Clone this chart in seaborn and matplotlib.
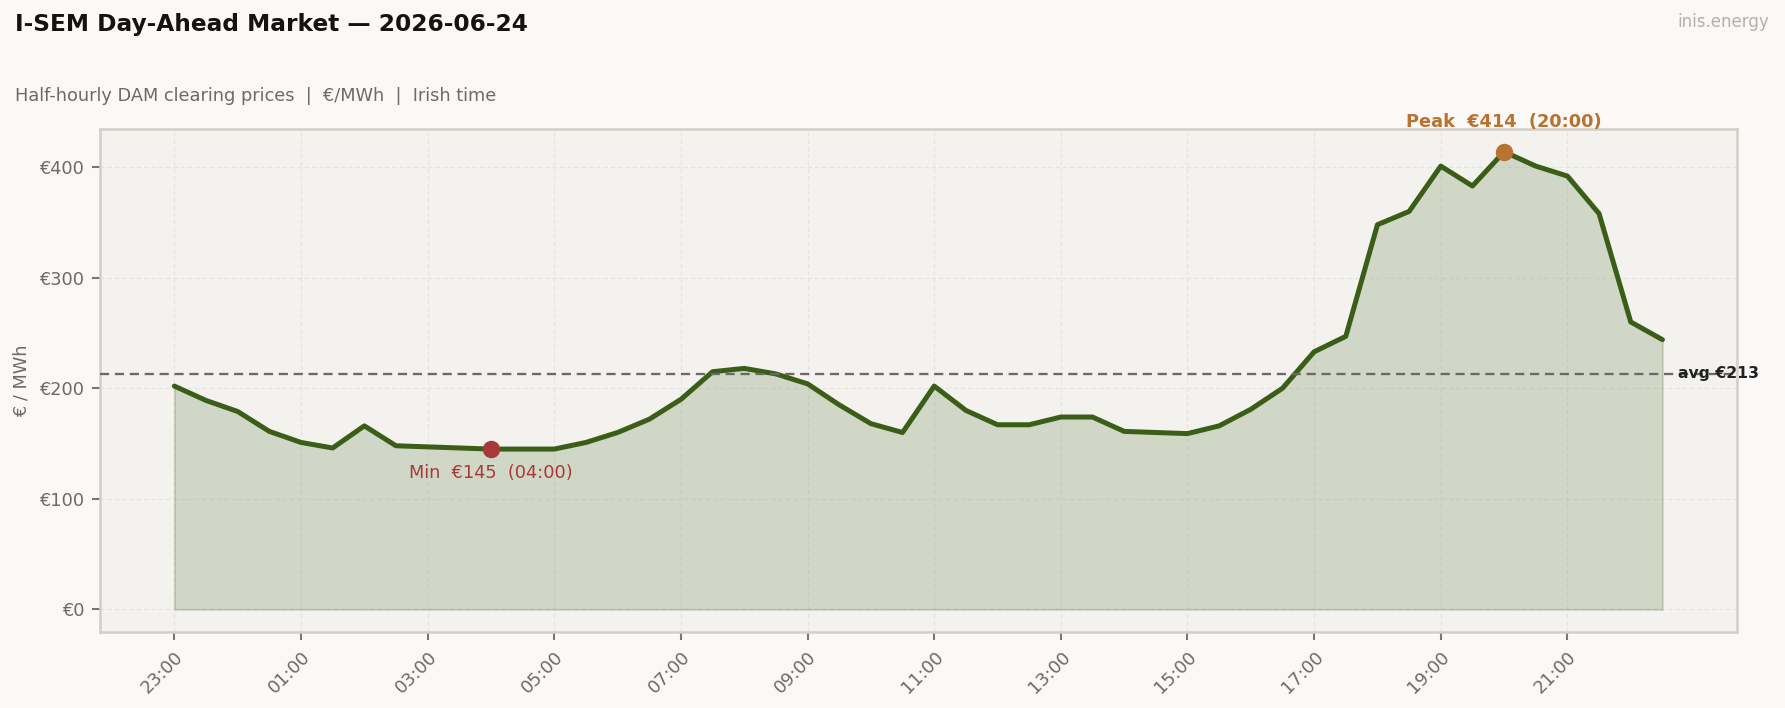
import matplotlib
matplotlib.use("Agg")
import matplotlib.pyplot as plt
import seaborn as sns
import numpy as np
import pandas as pd

# ---- data ----
times = ["23:00", "23:30", "00:00", "00:30", "01:00", "01:30", "02:00", "02:30",
         "03:00", "03:30", "04:00", "04:30", "05:00", "05:30", "06:00", "06:30",
         "07:00", "07:30", "08:00", "08:30", "09:00", "09:30", "10:00", "10:30",
         "11:00", "11:30", "12:00", "12:30", "13:00", "13:30", "14:00", "14:30",
         "15:00", "15:30", "16:00", "16:30", "17:00", "17:30", "18:00", "18:30",
         "19:00", "19:30", "20:00", "20:30", "21:00", "21:30", "22:00", "22:30"]
prices = [202, 189, 179, 161, 151, 146, 166, 148,
          147, 146, 145, 145, 145, 151, 160, 172,
          190, 215, 218, 213, 204, 185, 168, 160,
          202, 180, 167, 167, 174, 174, 161, 160,
          159, 166, 181, 200, 233, 247, 348, 360,
          401, 383, 414, 401, 392, 358, 260, 244]
tick_labels = ["23:00", "01:00", "03:00", "05:00", "07:00", "09:00", "11:00",
               "13:00", "15:00", "17:00", "19:00", "21:00"]

title = "I-SEM Day-Ahead Market \u2014 2026-06-24"
subtitle = "Half-hourly DAM clearing prices  |  \u20ac/MWh  |  Irish time"
brand = "inis.energy"

# ---- style ----
sns.set_theme(style="white")
plt.rcParams["font.family"] = ["DejaVu Sans"]

LINE = "#3a5e17"
FIG_BG = "#faf9f7"
AX_BG = "#f3f2ee"
GRID = "#e6e3df"
SPINE = "#d3cfc8"
TXT = "#6e6a66"
PEAK = "#b87330"
MIN = "#a8393b"

df = pd.DataFrame({"idx": np.arange(len(prices)), "time": times, "price": prices})

fig = plt.figure(figsize=(11.9, 4.72), dpi=150, facecolor=FIG_BG)
ax = fig.add_axes([0.056, 0.107, 0.917, 0.711])
ax.set_facecolor(AX_BG)

ax.fill_between(df["idx"], 0, df["price"], color=LINE, alpha=0.18, linewidth=1.0, zorder=2)
sns.lineplot(data=df, x="idx", y="price", ax=ax, color=LINE, linewidth=2.4, zorder=3)

avg = float(np.mean(prices))
ax.axhline(avg, color="#6b6865", linestyle=(0, (4, 2.5)), linewidth=1.1, zorder=4)
ax.text(len(prices) - 1 + 0.5, avg, f"avg \u20ac{avg:.0f}", fontsize=7.5, fontweight="bold",
        color="#222222", va="center", ha="left", zorder=5)

imax = int(np.argmax(prices))
imin = int(np.argmin(prices))
ax.scatter([imax], [prices[imax]], s=70, color=PEAK, zorder=6, linewidths=0)
ax.scatter([imin], [prices[imin]], s=70, color=MIN, zorder=6, linewidths=0)
ax.annotate(f"Peak  \u20ac{prices[imax]}  ({times[imax]})", (imax, prices[imax]),
            xytext=(0, 10), textcoords="offset points", ha="center", va="bottom",
            fontsize=8.5, fontweight="bold", color=PEAK, annotation_clip=False)
ax.annotate(f"Min  \u20ac{prices[imin]}  ({times[imin]})", (imin, prices[imin]),
            xytext=(0, -7), textcoords="offset points", ha="center", va="top",
            fontsize=8.5, color=MIN)

ax.margins(x=0.05, y=0.05)
tick_pos = [times.index(t) for t in tick_labels]
ax.set_xticks(tick_pos)
ax.set_xticklabels(tick_labels, rotation=45, ha="right", rotation_mode="anchor")
ax.set_yticks([0, 100, 200, 300, 400])
ax.set_yticklabels([f"\u20ac{v}" for v in [0, 100, 200, 300, 400]])
ax.tick_params(axis="both", colors="#7a7671", labelcolor=TXT, labelsize=8.5,
               length=4, width=1, bottom=True, left=True)
ax.set_xlabel("")
ax.set_ylabel("\u20ac / MWh", color=TXT, fontsize=8.5)

ax.grid(True, color=GRID, linestyle=(0, (4, 3)), linewidth=0.5, zorder=0)
ax.set_axisbelow(True)
for s in ax.spines.values():
    s.set_color(SPINE)
    s.set_linewidth(1.2)
    s.set_visible(True)

fig.text(0.0084, 0.965, title, fontsize=11.2, fontweight="bold", color="#151311",
         ha="left", va="center")
fig.text(0.0084, 0.865, subtitle, fontsize=8.5, color=TXT, ha="left", va="center")
fig.text(0.991, 0.969, brand, fontsize=8, color="#b3b0ac", ha="right", va="center")

fig.savefig("out.png", dpi=150, facecolor=FIG_BG)
